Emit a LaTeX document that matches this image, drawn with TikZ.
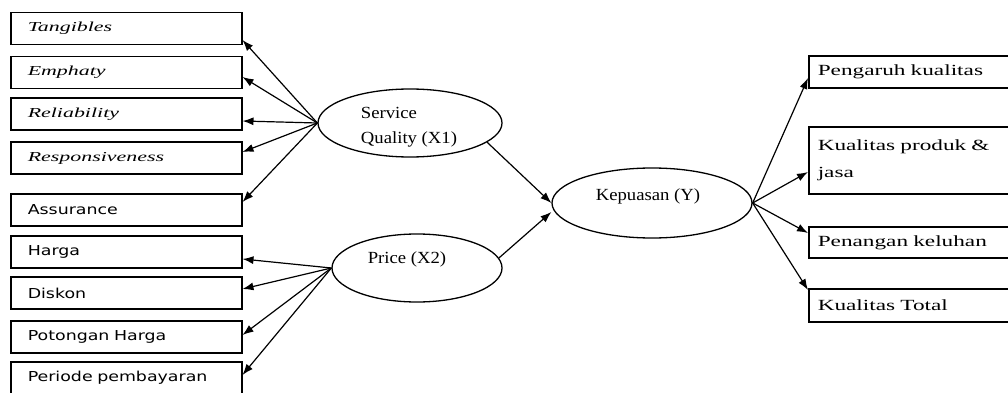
\documentclass[tikz,border=0pt]{standalone}
\usepackage{fontspec}
\setmainfont{Liberation Serif}[FakeStretch=1.1]
\newfontfamily\boxserif{Liberation Serif}[FakeStretch=1.5]
\newfontfamily\boxital{Liberation Serif}[FakeStretch=1.6]
\newfontfamily\boxsans{DejaVu Sans}[FakeStretch=1.27]
\usetikzlibrary{arrows.meta,shapes.geometric}
\begin{document}
\begin{tikzpicture}[x=1pt,y=-1pt,
  leftbox/.style={draw,line width=1.5pt,anchor=west,minimum width=231pt,minimum height=32pt,
    text width=197pt,inner xsep=17pt,inner ysep=0pt,align=left},
  itbox/.style={leftbox,font=\boxital\itshape\fontsize{13.7}{16}\selectfont},
  sfbox/.style={leftbox,font=\boxsans\fontsize{13.7}{16}\selectfont},
  rightbox/.style={draw,line width=1.5pt,anchor=west,minimum width=230pt,minimum height=32pt,
    text width=212pt,inner xsep=9pt,inner ysep=0pt,align=left,font=\boxserif\fontsize{15.5}{27}\selectfont},
  latent/.style={draw,ellipse,line width=1.3pt,inner sep=0pt},
  latentname/.style={font=\fontsize{17}{25}\selectfont,align=left,inner sep=0pt},
  link/.style={-{Latex[length=11pt,width=8pt]},line width=1.2pt}]
\useasboundingbox (0,0) rectangle (1008,393) ;
\clip (0,0) rectangle (1008,393) ;
% indicators of service quality
\node [itbox] (tang) at (10,28.5) {Tangibles} ;
\node [itbox] (emph) at (10,72.5) {Emphaty} ;
\node [itbox] (rel) at (10,114) {Reliability} ;
\node [itbox] (resp) at (10,158) {Responsiveness} ;
\node [sfbox] (assur) at (10,210) {Assurance} ;
% indicators of price
\node [sfbox] (harga) at (10,252) {Harga} ;
\node [sfbox] (disk) at (10,293) {Diskon} ;
\node [sfbox] (pot) at (10,337) {Potongan Harga} ;
\node [sfbox] (per) at (10,378) {Periode pembayaran} ;
% latent variables
\node [latent,minimum width=184pt,minimum height=68pt,
  label={[latentname,xshift=-1pt,yshift=-4pt]center:Service\\Quality (X1)}] (sq) at (410,123) {} ;
\node [latent,minimum width=170pt,minimum height=68pt,
  label={[latentname,xshift=-10pt,yshift=9pt]center:Price (X2)}] (pr) at (417,268) {} ;
\node [latent,minimum width=200pt,minimum height=70pt,
  label={[latentname,xshift=-4pt,yshift=7pt]center:Kepuasan (Y)}] (kep) at (652,203) {} ;
% indicators of kepuasan
\node [rightbox] (pk) at (808,72) {Pengaruh kualitas} ;
\node [rightbox,minimum height=67pt] (kpj) at (808,160.5) {Kualitas produk \&\\jasa} ;
\node [rightbox,minimum height=31pt] (pkel) at (808,242.5) {Penangan keluhan} ;
\node [rightbox,minimum height=33pt] (kt) at (808,305.5) {Kualitas Total} ;
% arrows
\draw [link] (sq.west) -- ([yshift=-11.5pt] tang.east) ;
\draw [link] (sq.west) -- ([yshift=-4.5pt] emph.east) ;
\draw [link] (sq.west) -- ([yshift=-7pt] rel.east) ;
\draw [link] (sq.west) -- ([yshift=6pt] resp.east) ;
\draw [link] (sq.west) -- ([yshift=8pt] assur.east) ;
\draw [link] (pr.west) -- ([yshift=-7pt] harga.east) ;
\draw [link] (pr.west) -- ([yshift=4pt] disk.east) ;
\draw [link] (pr.west) -- ([yshift=2pt] pot.east) ;
\draw [link] (pr.west) -- ([yshift=3pt] per.east) ;
\draw [link] (sq.-14) -- (kep.west) ;
\draw [link] (pr.7) -- ([yshift=-9pt] kep.west) ;
\draw [link] (kep.east) -- ([yshift=-6pt] pk.west) ;
\draw [link] (kep.east) -- ([yshift=-11.5pt] kpj.west) ;
\draw [link] (kep.east) -- ([yshift=9.5pt] pkel.west) ;
\draw [link] (kep.east) -- ([yshift=15.5pt] kt.west) ;
\end{tikzpicture}
\end{document}
